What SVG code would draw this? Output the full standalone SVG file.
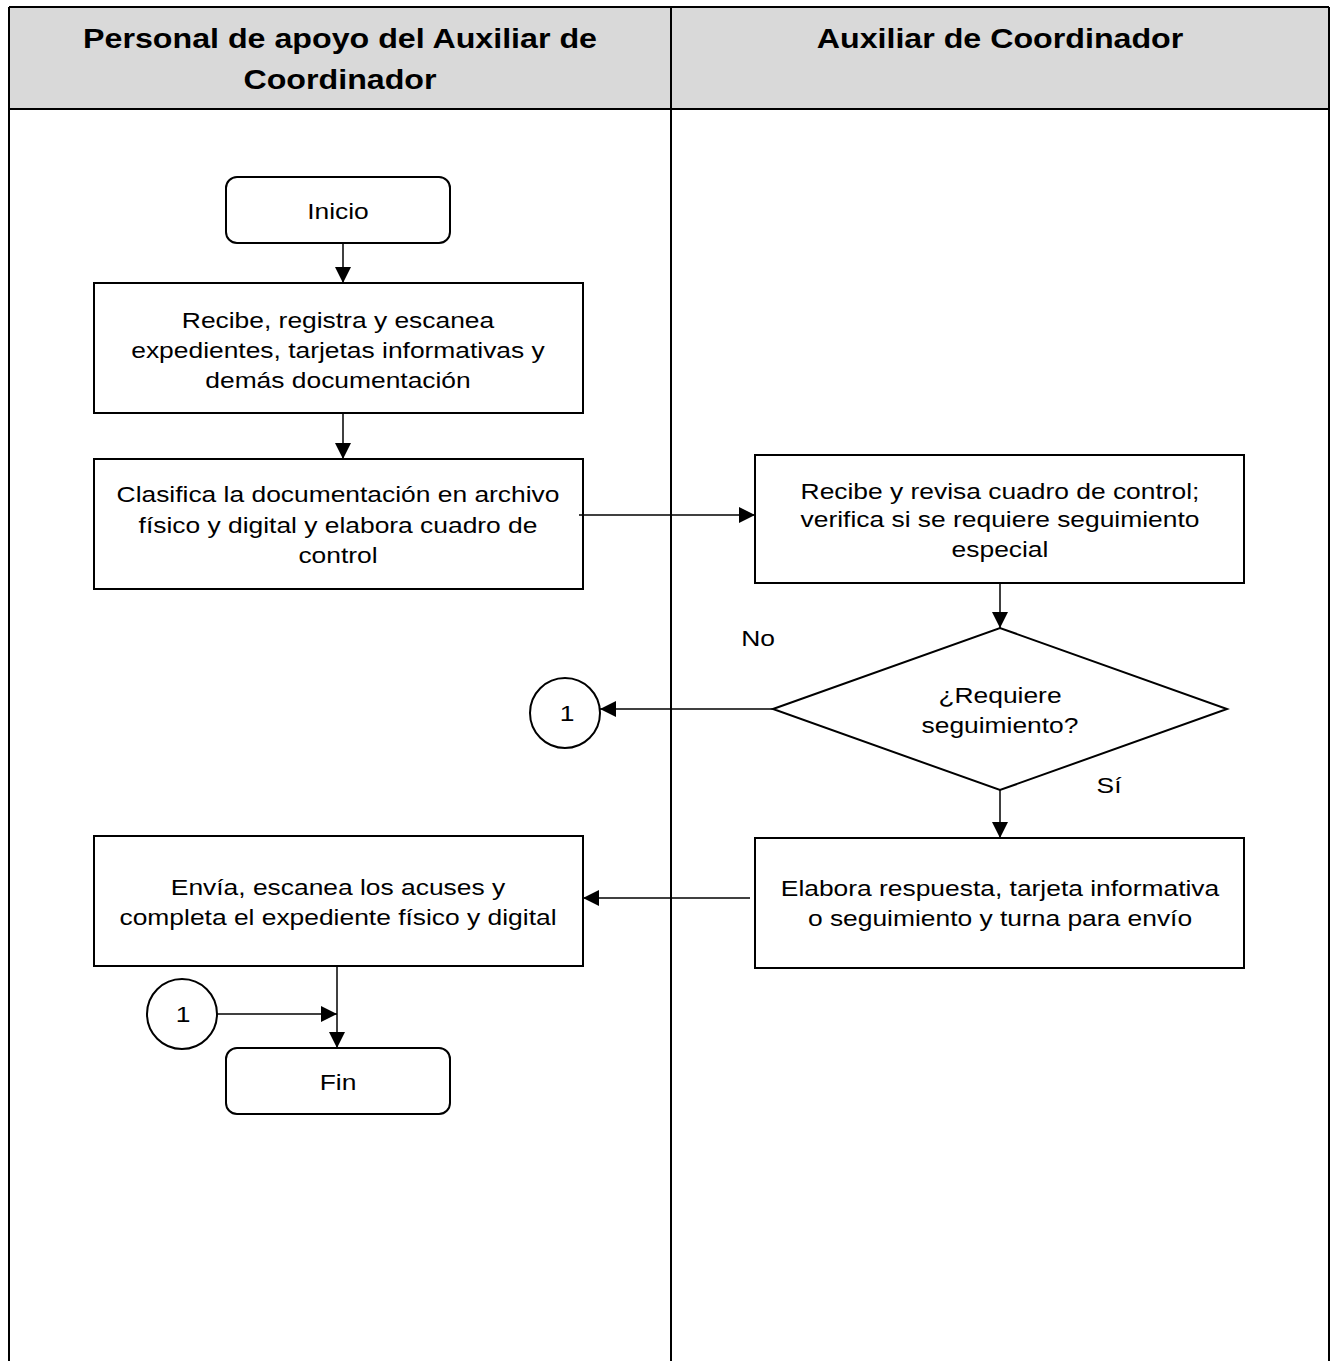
<svg xmlns="http://www.w3.org/2000/svg" width="1333" height="1361" viewBox="0 0 1333 1361">
<style>
.hdr{font-family:"Liberation Sans",Arial,sans-serif;font-weight:bold;font-size:28px;fill:#000;text-anchor:middle}
.t{font-family:"Liberation Sans",Arial,sans-serif;font-size:22px;fill:#000;text-anchor:middle}
.box{fill:#fff;stroke:#000;stroke-width:2}
.ln{stroke:#000;stroke-width:1.5;fill:none}
.lane{stroke:#000;stroke-width:2;fill:none}
</style>
<defs>
<marker id="arr" viewBox="0 0 10 10" refX="10" refY="5" markerWidth="16" markerHeight="16" markerUnits="userSpaceOnUse" orient="auto">
<path d="M0,0 L10,5 L0,10 z" fill="#000"/>
</marker>
</defs>
<g id="lanes">
<rect x="9" y="7" width="1320" height="102" fill="#d9d9d9"/>
<line class="lane" x1="9" y1="7" x2="1329" y2="7"/>
<line class="lane" x1="9" y1="109" x2="1329" y2="109"/>
<line class="lane" x1="9" y1="7" x2="9" y2="1361"/>
<line class="lane" x1="671" y1="7" x2="671" y2="1361"/>
<line class="lane" x1="1329" y1="7" x2="1329" y2="1361"/>
<text class="hdr" transform="matrix(1.15 0 0 1 340 48)">Personal de apoyo del Auxiliar de</text>
<text class="hdr" transform="matrix(1.15 0 0 1 340 89)">Coordinador</text>
<text class="hdr" transform="matrix(1.15 0 0 1 1000 48)">Auxiliar de Coordinador</text>
</g>
<g id="inicio">
<rect class="box" x="226" y="177" width="224" height="66" rx="11"/>
<text class="t" transform="matrix(1.2 0 0 1 338 219)">Inicio</text>
</g>
<g id="recibe">
<rect class="box" x="94" y="283" width="489" height="130"/>
<text class="t" transform="matrix(1.2 0 0 1 338 328)">Recibe, registra y escanea</text>
<text class="t" transform="matrix(1.2 0 0 1 338 358)">expedientes, tarjetas informativas y</text>
<text class="t" transform="matrix(1.2 0 0 1 338 388)">demás documentación</text>
</g>
<g id="clasifica">
<rect class="box" x="94" y="459" width="489" height="130"/>
<text class="t" transform="matrix(1.2 0 0 1 338 502)">Clasifica la documentación en archivo</text>
<text class="t" transform="matrix(1.2 0 0 1 338 533)">físico y digital y elabora cuadro de</text>
<text class="t" transform="matrix(1.2 0 0 1 338 563)">control</text>
</g>
<g id="revisa">
<rect class="box" x="755" y="455" width="489" height="128"/>
<text class="t" transform="matrix(1.2 0 0 1 1000 499)">Recibe y revisa cuadro de control;</text>
<text class="t" transform="matrix(1.2 0 0 1 1000 527)">verifica si se requiere seguimiento</text>
<text class="t" transform="matrix(1.2 0 0 1 1000 557)">especial</text>
</g>
<g id="decision">
<polygon class="box" points="773,709 1000,628 1227,709 1000,790"/>
<text class="t" transform="matrix(1.2 0 0 1 1000 703)">¿Requiere</text>
<text class="t" transform="matrix(1.2 0 0 1 1000 733)">seguimiento?</text>
</g>
<g id="conector1a">
<circle class="box" cx="565" cy="713" r="35"/>
<text class="t" transform="matrix(1.2 0 0 1 567 721)">1</text>
</g>
<g id="elabora">
<rect class="box" x="755" y="838" width="489" height="130"/>
<text class="t" transform="matrix(1.2 0 0 1 1000 896)">Elabora respuesta, tarjeta informativa</text>
<text class="t" transform="matrix(1.2 0 0 1 1000 926)">o seguimiento y turna para envío</text>
</g>
<g id="envia">
<rect class="box" x="94" y="836" width="489" height="130"/>
<text class="t" transform="matrix(1.2 0 0 1 338 895)">Envía, escanea los acuses y</text>
<text class="t" transform="matrix(1.2 0 0 1 338 925)">completa el expediente físico y digital</text>
</g>
<g id="conector1b">
<circle class="box" cx="182" cy="1014" r="35"/>
<text class="t" transform="matrix(1.2 0 0 1 183 1022)">1</text>
</g>
<g id="fin">
<rect class="box" x="226" y="1048" width="224" height="66" rx="11"/>
<text class="t" transform="matrix(1.2 0 0 1 338 1090)">Fin</text>
</g>
<g id="connectors">
<line class="ln" x1="343" y1="243" x2="343" y2="283" marker-end="url(#arr)"/>
<line class="ln" x1="343" y1="413" x2="343" y2="459" marker-end="url(#arr)"/>
<line class="ln" x1="579" y1="515" x2="755" y2="515" marker-end="url(#arr)"/>
<line class="ln" x1="1000" y1="583" x2="1000" y2="628" marker-end="url(#arr)"/>
<line class="ln" x1="773" y1="709" x2="600" y2="709" marker-end="url(#arr)"/>
<line class="ln" x1="1000" y1="790" x2="1000" y2="838" marker-end="url(#arr)"/>
<line class="ln" x1="750" y1="898" x2="583" y2="898" marker-end="url(#arr)"/>
<line class="ln" x1="337" y1="966" x2="337" y2="1048" marker-end="url(#arr)"/>
<line class="ln" x1="217" y1="1014" x2="337" y2="1014" marker-end="url(#arr)"/>
<text class="t" transform="matrix(1.2 0 0 1 758 646)">No</text>
<text class="t" transform="matrix(1.2 0 0 1 1109 793)">Sí</text>
</g>
</svg>
